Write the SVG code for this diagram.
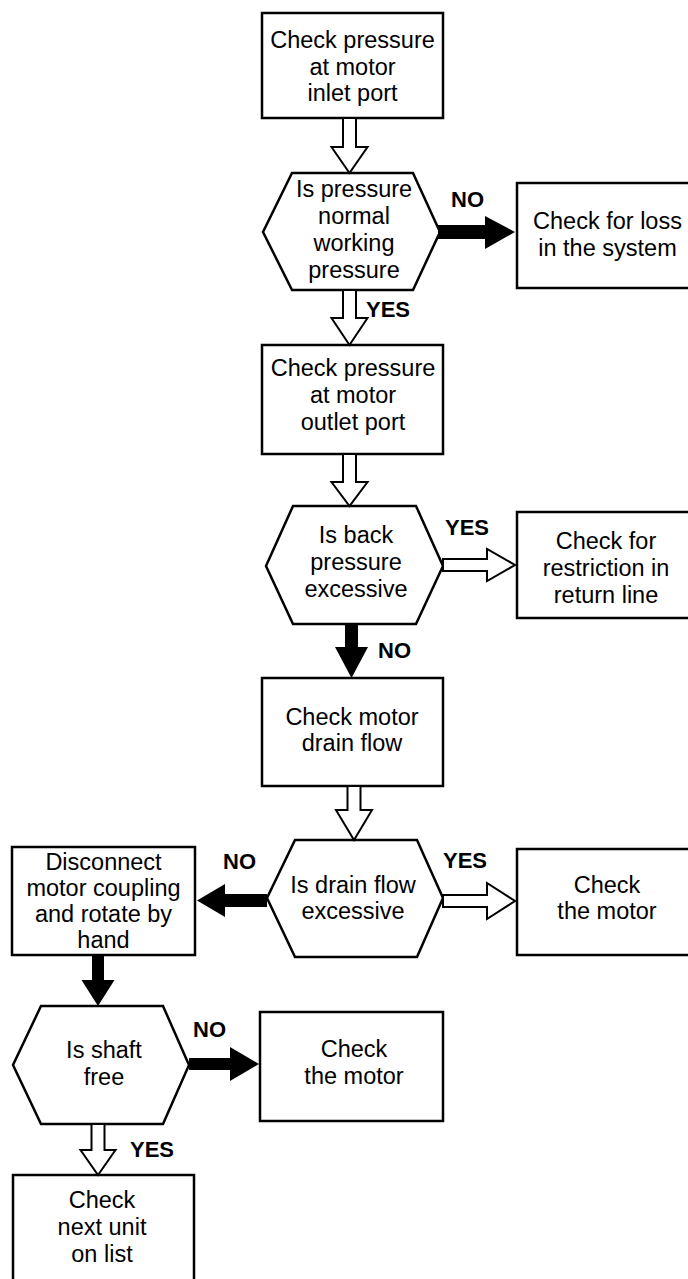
<svg xmlns="http://www.w3.org/2000/svg" width="688" height="1279" viewBox="0 0 688 1279">
<style>
.box{fill:#fff;stroke:#000;stroke-width:2.5}
.hex{fill:#fff;stroke:#000;stroke-width:2.5;stroke-linejoin:miter}
.t{font-family:"Liberation Sans",Arial,Helvetica,sans-serif;font-size:23.5px;text-anchor:middle;fill:#000}
.lb{font-family:"Liberation Sans",Arial,Helvetica,sans-serif;font-size:22px;font-weight:bold;fill:#000}
.hol{fill:#fff;stroke:#000;stroke-width:2;stroke-linejoin:miter}
.sol{fill:#000;stroke:none}
</style>
<rect width="688" height="1279" fill="#fff"/>
<g id="n1"><rect class="box" x="262" y="13" width="181" height="105"/>
<text class="t" x="352.5" y="48">Check pressure</text><text class="t" x="352.5" y="74.5">at motor</text><text class="t" x="352.5" y="101">inlet port</text></g>
<g id="n2"><polygon class="hex" points="292,173 413,173 440,232 413,290 292,290 263,232"/>
<text class="t" x="354" y="197">Is pressure</text><text class="t" x="354" y="224">normal</text><text class="t" x="354" y="251">working</text><text class="t" x="354" y="278">pressure</text></g>
<g id="n3"><rect class="box" x="517" y="183" width="181" height="105"/>
<text class="t" x="607.5" y="229">Check for loss</text><text class="t" x="607.5" y="256">in the system</text></g>
<g id="n4"><rect class="box" x="262" y="345" width="181" height="109"/>
<text class="t" x="353" y="376">Check pressure</text><text class="t" x="353" y="403">at motor</text><text class="t" x="353" y="430">outlet port</text></g>
<g id="n5"><polygon class="hex" points="293,506 416,506 443,566 416,624 293,624 266,566"/>
<text class="t" x="356" y="543">Is back</text><text class="t" x="356" y="570">pressure</text><text class="t" x="356" y="597">excessive</text></g>
<g id="n6"><rect class="box" x="517" y="512" width="181" height="106"/>
<text class="t" x="606" y="549">Check for</text><text class="t" x="606" y="576">restriction in</text><text class="t" x="606" y="603">return line</text></g>
<g id="n7"><rect class="box" x="262" y="678" width="181" height="108"/>
<text class="t" x="352" y="725">Check motor</text><text class="t" x="352" y="751">drain flow</text></g>
<g id="n8"><polygon class="hex" points="295,840 417,840 443,898 417,957 295,957 267,898"/>
<text class="t" x="353" y="893">Is drain flow</text><text class="t" x="353" y="919">excessive</text></g>
<g id="n9"><rect class="box" x="517" y="849" width="181" height="106"/>
<text class="t" x="607" y="893">Check</text><text class="t" x="607" y="919">the motor</text></g>
<g id="n10"><rect class="box" x="12" y="847" width="183" height="108"/>
<text class="t" x="103.5" y="870">Disconnect</text><text class="t" x="103.5" y="896">motor coupling</text><text class="t" x="103.5" y="922">and rotate by</text><text class="t" x="103.5" y="948">hand</text></g>
<g id="n11"><polygon class="hex" points="41,1006 163,1006 189,1065 163,1124 41,1124 13,1065"/>
<text class="t" x="104" y="1058">Is shaft</text><text class="t" x="104" y="1085">free</text></g>
<g id="n12"><rect class="box" x="260" y="1012" width="183" height="109"/>
<text class="t" x="354" y="1057">Check</text><text class="t" x="354" y="1084">the motor</text></g>
<g id="n13"><rect class="box" x="13" y="1175" width="181" height="120"/>
<text class="t" x="102" y="1208">Check</text><text class="t" x="102" y="1235">next unit</text><text class="t" x="102" y="1262">on list</text></g>
<g id="connectors">
<polygon class="hol" points="343,118 343,147 331.5,147 349.5,173 367.5,147 356,147 356,118"/>
<polygon class="sol" points="438,225 485,225 485,216 515,232 485,249 485,239 438,239"/>
<text class="lb" x="451" y="207">NO</text>
<polygon class="hol" points="343,290 343,318 331.5,318 349.5,345 367.5,318 356,318 356,290"/>
<text class="lb" x="366" y="317">YES</text>
<polygon class="hol" points="343,454 343,482 331.5,482 349.5,506 367.5,482 356,482 356,454"/>
<polygon class="hol" points="443,559 487,559 487,549 515,565 487,581 487,571 443,571"/>
<text class="lb" x="445" y="535">YES</text>
<polygon class="sol" points="345,624 345,647 335,647 351.5,678 368,647 358,647 358,624"/>
<text class="lb" x="378" y="658">NO</text>
<polygon class="hol" points="347.5,786 347.5,810 336,810 354,840 372,810 360.5,810 360.5,786"/>
<polygon class="sol" points="267,894 225,894 225,884 197,900.5 225,917 225,907 267,907"/>
<text class="lb" x="223" y="869">NO</text>
<polygon class="hol" points="443,895 487,895 487,883 515,901 487,919 487,907 443,907"/>
<text class="lb" x="443" y="868">YES</text>
<polygon class="sol" points="92,955 92,980 81.5,980 98,1006 114.5,980 104,980 104,955"/>
<polygon class="sol" points="189,1058 230,1058 230,1047 259,1064 230,1081 230,1070 189,1070"/>
<text class="lb" x="193" y="1037">NO</text>
<polygon class="hol" points="91.5,1124 91.5,1150 80.5,1150 98,1175 115.5,1150 104.5,1150 104.5,1124"/>
<text class="lb" x="130" y="1157">YES</text>
</g>
</svg>
